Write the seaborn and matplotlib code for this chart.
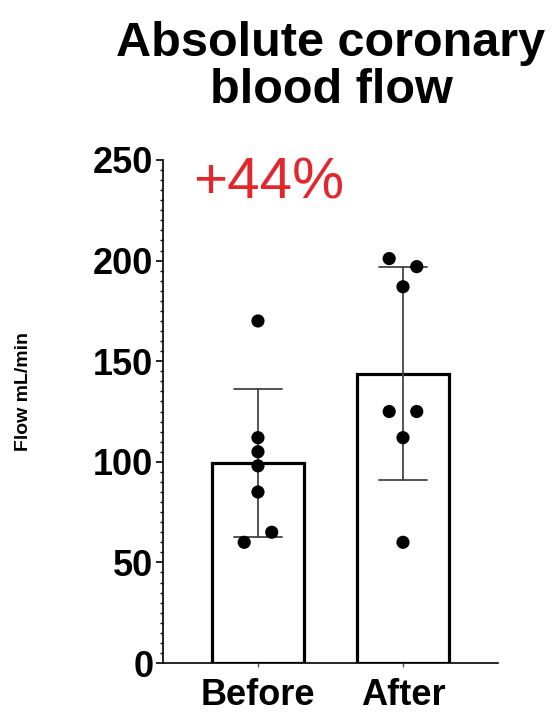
import numpy as np
import pandas as pd
import matplotlib
matplotlib.use("Agg")
import matplotlib.pyplot as plt
from matplotlib.ticker import MultipleLocator
import seaborn as sns

# Coronary flow per subject (mL/min)
phases = ["Before", "After"]
before_flow = [170, 112, 105, 98, 85, 60, 65]
after_flow = [201, 197, 187, 125, 125, 112, 60]
y_ticks = [0, 50, 100, 150, 200, 250]
title_text = "Absolute coronary\nblood flow"
ylabel_text = "Flow mL/min"
change_text = "+44%"

df = pd.DataFrame({
    "phase": [phases[0]] * len(before_flow) + [phases[1]] * len(after_flow),
    "flow": before_flow + after_flow,
})

sns.set_theme(style="ticks")
plt.rcParams["font.family"] = ["Liberation Sans", "DejaVu Sans"]
plt.rcParams["text.color"] = "black"
plt.rcParams["axes.labelcolor"] = "black"
plt.rcParams["xtick.color"] = "black"
plt.rcParams["ytick.color"] = "black"

fig = plt.figure(figsize=(5.57, 7.21), dpi=100)
ax = fig.add_axes([0.2926, 0.0804, 0.6014, 0.6977])

sns.barplot(
    data=df, x="phase", y="flow", order=phases, ax=ax,
    errorbar="sd", capsize=0.33, width=0.634,
    color="white", edgecolor="black", linewidth=2.3,
    err_kws={"color": "#444444", "linewidth": 1.3},
)


def spread(values, tol=6.0, step=0.19):
    """Spread neighbouring points sideways so close values sit side by side."""
    offsets = np.zeros(len(values))
    groups, cur = [], [0]
    for i in range(1, len(values)):
        if abs(values[i] - values[cur[0]]) <= tol:
            cur.append(i)
        else:
            groups.append(cur)
            cur = [i]
    groups.append(cur)
    for g in groups:
        n = len(g)
        for k, idx in enumerate(g):
            offsets[idx] = (k - (n - 1) / 2) * step
    return offsets


pts = pd.DataFrame({
    "pos": np.concatenate([0 + spread(before_flow), 1 + spread(after_flow)]),
    "flow": before_flow + after_flow,
})
sns.scatterplot(data=pts, x="pos", y="flow", ax=ax, color="black",
                s=90, edgecolor="none", zorder=5, legend=False)

ax.set_xlim(-0.655, 1.655)
ax.set_ylim(0, 250)
ax.set_yticks(y_ticks)
ax.yaxis.set_minor_locator(MultipleLocator(5))
ax.set_xticks([0, 1])
ax.set_xticklabels(phases)
ax.set_xlabel("")
ax.set_ylabel(ylabel_text, fontsize=14, fontweight="bold", color="black")
ax.yaxis.set_label_coords(-0.39, 0.54)

for s in ["top", "right"]:
    ax.spines[s].set_visible(False)
for s in ["left", "bottom"]:
    ax.spines[s].set_linewidth(1.2)
    ax.spines[s].set_color("black")

ax.tick_params(axis="y", which="major", length=5, width=1.2, color="black",
               labelcolor="black", labelsize=26, pad=2)
ax.tick_params(axis="y", which="minor", length=2.5, width=1.0, color="black")
ax.tick_params(axis="x", which="major", length=3, width=1.0, color="#555555",
               labelcolor="black", labelsize=26, pad=8)
for lab in ax.get_xticklabels() + ax.get_yticklabels():
    lab.set_fontweight("bold")

ax.text(-0.448, 231, change_text, color="#e3262b", fontsize=42,
        ha="left", va="baseline")

fig.text(331 / 557, 1 - 67 / 721, title_text, ha="center", va="center",
         fontsize=35, fontweight="bold", linespacing=1.08, color="black")

fig.savefig("out.png", dpi=100, facecolor="white")
